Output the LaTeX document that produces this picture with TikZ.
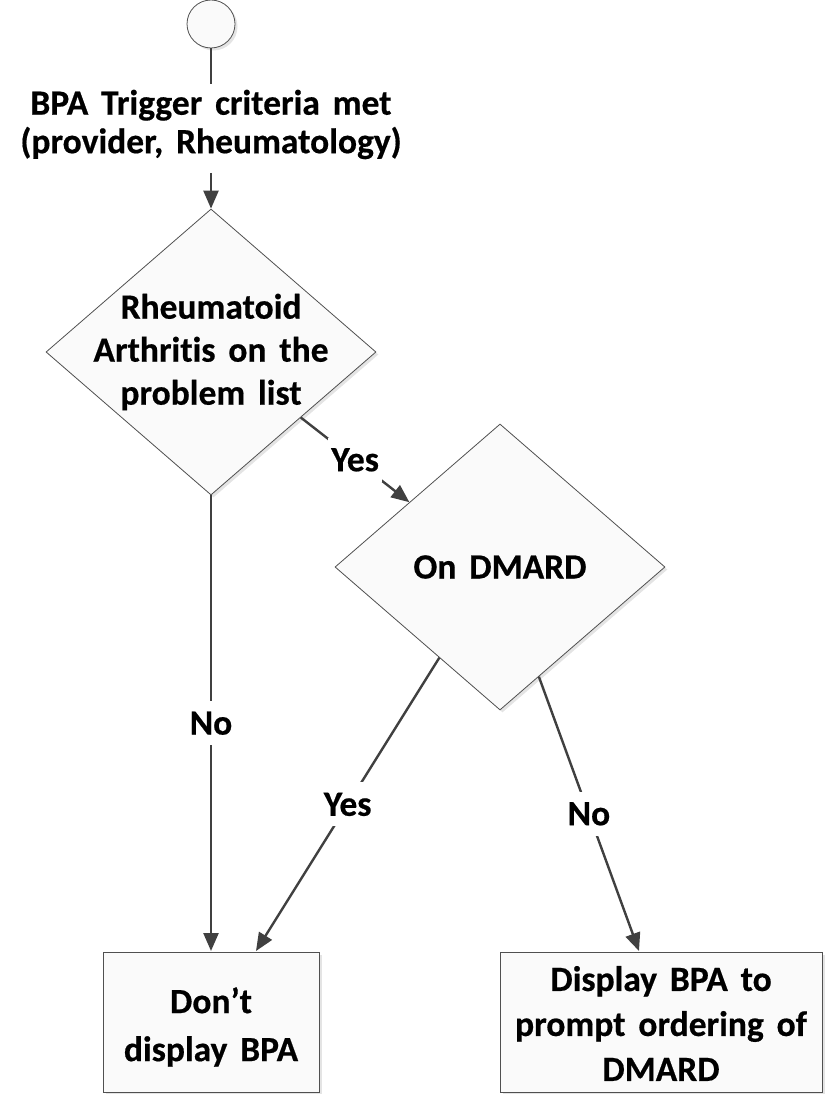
\documentclass[tikz,border=0pt]{standalone}
\usepackage{fontspec}
\setmainfont{Carlito}[Ligatures={NoCommon}, WordSpace=1.6, BoldFeatures={FakeBold=0.5}]
\usetikzlibrary{arrows.meta,shapes.geometric,calc}
\definecolor{lin}{HTML}{404040}
\definecolor{edgec}{HTML}{505050}
\definecolor{fillc}{HTML}{FAFAFA}
\definecolor{shadowc}{HTML}{E4E4E4}
\begin{document}
\begin{tikzpicture}[x=1pt,y=-1pt,
  txt/.style={font=\fontsize{35.5}{43}\selectfont\bfseries, align=center, inner sep=0pt},
  shape base/.style={draw=edgec, line width=0.8pt, fill=fillc,
    preaction={fill=shadowc, draw=none, transform canvas={xshift=2.5pt, yshift=-2.5pt}}},
  decision/.style={shape base, diamond, minimum width=330pt, minimum height=286pt, inner sep=0pt},
  process/.style={shape base, rectangle, inner sep=0pt},
  startc/.style={shape base, circle, minimum size=48pt, inner sep=0pt},
  conn/.style={draw=lin, line width=2.4pt},
  arr/.style={conn, -{Triangle[length=18pt,width=15pt]}},
  lbl/.style={txt, fill=white, minimum height=44pt, inner xsep=3pt}
]
\useasboundingbox (0,0) rectangle (825,1094);

% shapes
\node[startc] (start) at (211,24) {};
\node[txt, font=\fontsize{35.5}{38.5}\selectfont\bfseries] (trig) at (211,124.5) {BPA Trigger criteria met\\(provider, Rheumatology)};
\node[decision] (d1) at (211,352) {};
\node[txt] (d1t) at (211,352) {Rheumatoid\\Arthritis on the\\problem list};
\node[decision] (d2) at (500,567) {};
\node[txt] (d2t) at (500,567) {On DMARD};
\node[process, minimum width=216pt, minimum height=140pt] (b1) at (211,1022) {};
\node[txt, font=\fontsize{35.5}{48}\selectfont\bfseries] (b1t) at (211,1027) {Don’t\\display BPA};
\node[process, minimum width=322pt, minimum height=140pt] (b2) at (661,1022) {};
\node[txt, font=\fontsize{35.5}{45}\selectfont\bfseries] (b2t) at (661,1023.5) {Display BPA to\\prompt ordering of\\DMARD};

% connection points
\coordinate (trigtop) at (211,84);
\coordinate (trigbot) at (211,173);
\coordinate (p1) at ($(d1.east)!0.457!(d1.south)$);
\coordinate (p2) at ($(d2.west)!0.452!(d2.north)$);
\coordinate (p3) at ($(d2.west)!0.633!(d2.south)$);
\coordinate (p4) at ($(d2.east)!0.765!(d2.south)$);
\coordinate (b1a) at (211,951);
\coordinate (b1b) at (256,951);
\coordinate (b2a) at (639,951);

% connectors
\draw[conn] (start.south) -- (trigtop);
\draw[arr] (trigbot) -- (d1.north);
\draw[arr] (p1) -- node[lbl] {Yes} (p2);
\draw[arr] (d1.south) -- node[lbl] {No} (b1a);
\draw[arr] (p3) -- node[lbl] {Yes} (b1b);
\draw[arr] (p4) -- node[lbl] {No} (b2a);
\end{tikzpicture}
\end{document}
